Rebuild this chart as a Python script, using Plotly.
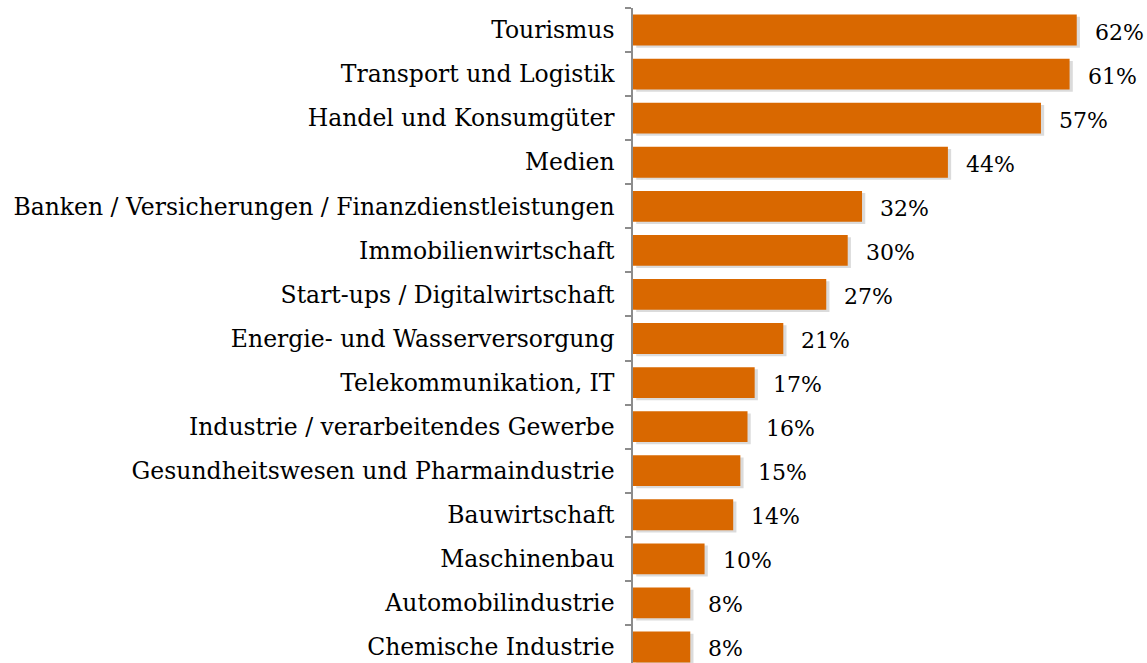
import plotly.graph_objects as go

categories = [
    "Tourismus",
    "Transport und Logistik",
    "Handel und Konsumgüter",
    "Medien",
    "Banken / Versicherungen / Finanzdienstleistungen",
    "Immobilienwirtschaft",
    "Start-ups / Digitalwirtschaft",
    "Energie- und Wasserversorgung",
    "Telekommunikation, IT",
    "Industrie / verarbeitendes Gewerbe",
    "Gesundheitswesen und Pharmaindustrie",
    "Bauwirtschaft",
    "Maschinenbau",
    "Automobilindustrie",
    "Chemische Industrie",
]
values = [62, 61, 57, 44, 32, 30, 27, 21, 17, 16, 15, 14, 10, 8, 8]
labels = [f"{v}%" for v in values]

FONT = "DejaVu Serif"
BAR = "#D96800"

fig = go.Figure()
# soft shadow
fig.add_trace(go.Bar(
    y=categories, x=values, orientation="h", base=0.45,
    width=0.7, offset=-0.3,
    marker=dict(color="rgba(0,0,0,0.14)", line=dict(width=0)),
    hoverinfo="skip", showlegend=False,
))
fig.add_trace(go.Bar(
    y=categories, x=values, orientation="h",
    width=0.7, offset=-0.35,
    marker=dict(color=BAR, line=dict(width=0)),
    showlegend=False,
))

for c, v, t in zip(categories, values, labels):
    fig.add_annotation(x=v, y=c, text=t, showarrow=False, xanchor="left",
                       xshift=16, yshift=-2, font=dict(family=FONT, size=22, color="#000"))

fig.update_layout(
    width=1147, height=663,
    barmode="overlay",
    paper_bgcolor="white", plot_bgcolor="white",
    margin=dict(l=633, r=13, t=8, b=0),
    font=dict(family=FONT, size=23.5, color="#000"),
    xaxis=dict(range=[0, 70], visible=False, fixedrange=True),
    yaxis=dict(
        type="category", categoryorder="array", categoryarray=categories,
        range=[14.5 - 6 / 44.07, -0.5],
        showline=True, linecolor="#8c8c8c", linewidth=1.5,
        ticks="outside", tickson="boundaries", ticklen=6, tickcolor="#8c8c8c", tickwidth=1.5,
        ticklabelstandoff=12, showgrid=False, zeroline=False,
        tickfont=dict(family=FONT, size=23.5, color="#000"),
    ),
)

fig.write_html("out.html", config={"displayModeBar": False},
               post_script="document.body.style.margin='0';document.body.style.overflow='hidden';")
